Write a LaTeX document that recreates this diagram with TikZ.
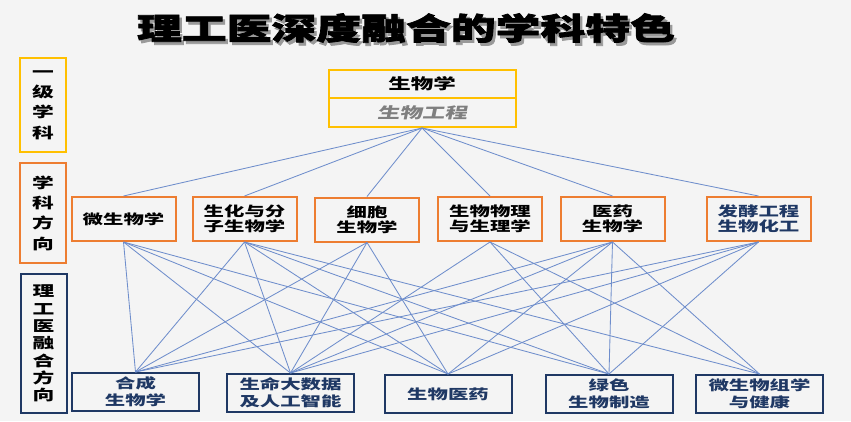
\documentclass[tikz,border=0pt]{standalone}
\usepackage{fontspec}
\setmainfont{Noto Sans CJK SC}[FakeStretch=1.5]
\newfontfamily\titlef{Noto Sans CJK SC}[FakeStretch=1.47, BoldFeatures={FakeBold=2.5}]
\newfontfamily\cjki{Noto Sans CJK SC}[FakeStretch=1.5, FakeSlant=0.2]
\definecolor{gold}{HTML}{FFC000}
\definecolor{orng}{HTML}{ED7D31}
\definecolor{navy}{HTML}{1F3864}
\definecolor{link}{HTML}{6F8ECC}
\definecolor{bg}{HTML}{F4F4F4}
\definecolor{itgray}{HTML}{7F7F7F}
\begin{document}
\begin{tikzpicture}[x=1pt,y=-1pt,
  lab/.style={draw, line width=2pt, inner sep=0pt, align=center, text=black,
    minimum width=46pt, font=\fontsize{14.5}{20.3}\selectfont\bfseries},
  topbox/.style={draw=gold, line width=2pt, inner sep=0pt, align=center,
    minimum width=187pt},
  mid/.style={draw=orng, line width=2pt, inner sep=0pt, align=center, text=black,
    minimum width=104pt, minimum height=44pt, font=\fontsize{13.6}{15}\selectfont\bfseries},
  bot/.style={draw=navy, line width=2pt, inner sep=0pt, align=center, text=navy,
    minimum width=127pt, minimum height=38pt, font=\fontsize{13.6}{17}\selectfont\bfseries},
  conn/.style={draw=link, line width=0.85pt}]
\useasboundingbox (0,0) rectangle (851,421);
\fill[bg] (0,0) rectangle (851,421);

% title with its shadow
\node[text=black!40, font=\titlef\fontsize{30.5}{32}\selectfont\bfseries] (titleshadow) at (408.5,31) {理工医深度融合的学科特色};
\node[text=black, font=\titlef\fontsize{30.5}{32}\selectfont\bfseries] (title) at (406,28) {理工医深度融合的学科特色};

% left labels
\node[lab, draw=gold, minimum height=94pt] (L1) at (43,105) {一\\级\\学\\科};
\node[lab, draw=orng, minimum height=100pt] (L2) at (43,213) {学\\科\\方\\向};
\node[lab, draw=navy, minimum height=139pt, font=\fontsize{14.5}{17.3}\selectfont\bfseries] (L3) at (43.5,343.5) {理\\工\\医\\融\\合\\方\\向};

% top box
\node[topbox, minimum height=28pt, font=\fontsize{15}{16}\selectfont\bfseries] (T1) at (422,84) {生物学};
\node[topbox, minimum height=29pt, text=itgray, font=\cjki\fontsize{15}{16}\selectfont\bfseries] (T2) at (422,112.5) {生物工程};

% middle row
\node[mid] (M1) at (123.5,219) {微生物学};
\node[mid] (M2) at (244.5,219) {生化与分\\子生物学};
\node[mid] (M3) at (367,219.5) {细胞\\生物学};
\node[mid] (M4) at (490,219) {生物物理\\与生理学};
\node[mid] (M5) at (612.5,219) {医药\\生物学};
\node[mid, text=navy] (M6) at (758.5,219) {发酵工程\\生物化工};

% bottom row
\node[bot] (B1) at (135.5,392) {合成\\生物学};
\node[bot] (B2) at (290.5,393) {生命大数据\\及人工智能};
\node[bot] (B3) at (448,394) {生物医药};
\node[bot] (B4) at (609,394) {绿色\\生物制造};
\node[bot] (B5) at (759.5,394) {微生物组学\\与健康};

% connectors top -> middle
\foreach \m in {M1,M2,M3,M4,M5,M6} \draw[conn] (T2.south) -- (\m.north);

% connectors middle -> bottom
\foreach \b in {B1,B2,B3,B4} \draw[conn] (M1.south) -- (\b.north);
\foreach \b in {B1,B2,B3,B4,B5} \draw[conn] (M2.south) -- (\b.north);
\foreach \b in {B1,B2,B3} \draw[conn] (M3.south) -- (\b.north);
\foreach \b in {B2,B4,B5} \draw[conn] (M4.south) -- (\b.north);
\foreach \b in {B1,B2,B3,B4,B5} \draw[conn] (M5.south) -- (\b.north);
\foreach \b in {B1,B2,B3,B4} \draw[conn] (M6.south) -- (\b.north);
\end{tikzpicture}
\end{document}
